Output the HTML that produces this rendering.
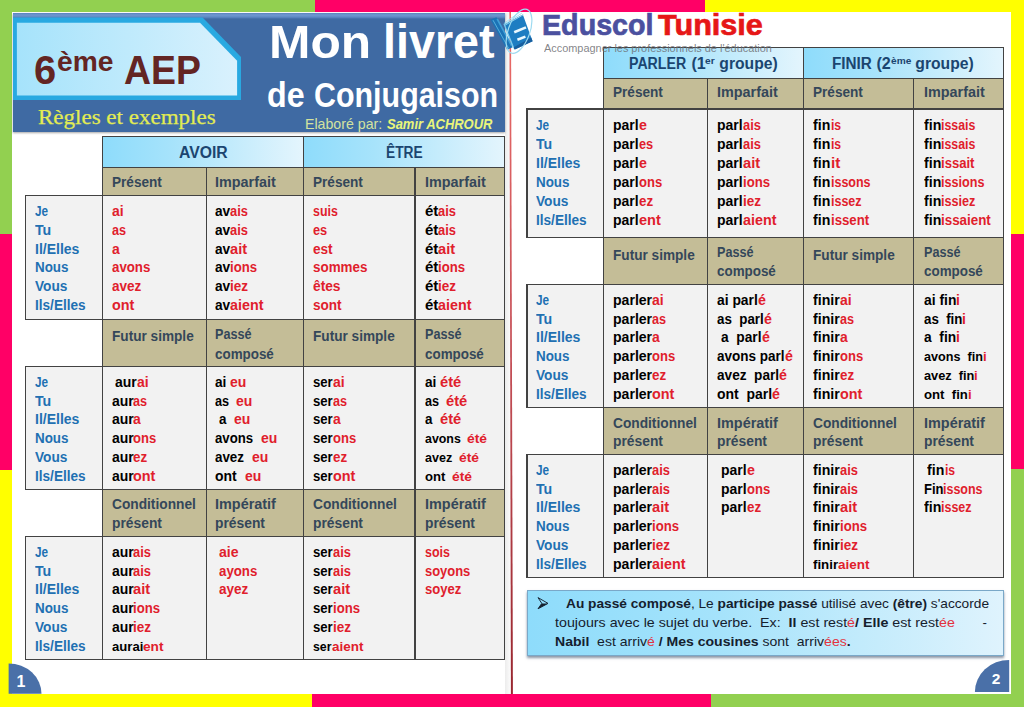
<!DOCTYPE html>
<html lang="fr"><head><meta charset="utf-8"><title>Mon livret de Conjugaison</title>
<style>
html,body{margin:0;padding:0}
body{width:1024px;height:709px;position:relative;overflow:hidden;background:#fff;font-family:"Liberation Sans",sans-serif;font-weight:bold}
body>div,body>svg,.t{position:absolute}
.t{white-space:pre;line-height:1}
.t.c{transform:translateX(-50%)}
.t i{font-style:normal;color:#e0202c}
.t sup{font-size:62%;vertical-align:baseline;position:relative;top:-0.42em}
</style></head><body>
<!-- colour bands -->
<div style="left:0.00px;top:0.00px;width:314.60px;height:12.00px;background:#92d050;"></div>
<div style="left:314.60px;top:0.00px;width:390.40px;height:12.00px;background:#ff0066;"></div>
<div style="left:705.00px;top:0.00px;width:319.00px;height:12.00px;background:#ffff00;"></div>
<div style="left:0.00px;top:0.00px;width:11.70px;height:233.60px;background:#92d050;"></div>
<div style="left:0.00px;top:233.60px;width:11.70px;height:236.40px;background:#ff0066;"></div>
<div style="left:0.00px;top:470.00px;width:11.70px;height:236.50px;background:#ffff00;"></div>
<div style="left:1011.00px;top:0.00px;width:13.00px;height:233.60px;background:#ffff00;"></div>
<div style="left:1011.00px;top:233.60px;width:13.00px;height:235.40px;background:#ff0066;"></div>
<div style="left:1011.00px;top:469.00px;width:13.00px;height:237.50px;background:#92d050;"></div>
<div style="left:0.00px;top:694.00px;width:312.40px;height:12.50px;background:#ffff00;"></div>
<div style="left:312.40px;top:694.00px;width:398.90px;height:12.50px;background:#ff0066;"></div>
<div style="left:711.30px;top:694.00px;width:312.70px;height:12.50px;background:#92d050;"></div>
<div style="left:505.00px;top:13.00px;width:5.00px;height:681.00px;background:linear-gradient(90deg,#ececec,#fafafa);"></div>
<svg style="left:506px;top:12px" width="10" height="683" viewBox="506 12 10 683"><defs><linearGradient id="cl" x1="0" y1="0" x2="0" y2="1"><stop offset="0" stop-color="#ec6a66"/><stop offset="0.45" stop-color="#c9555c"/><stop offset="1" stop-color="#98262f"/></linearGradient></defs><path d="M509.4 12 L511.0 12 L512.9 694 L510.9 694 Z" fill="url(#cl)"/></svg>
<!-- header -->
<div style="left:12.50px;top:12.50px;width:492.50px;height:119.00px;background:#3f6aa3;box-shadow:0 1px 2px rgba(0,0,0,.35);background:linear-gradient(#5a82bd 0,#6f98d0 2px,#5f8ac6 4px,#3f6aa3 6px,#3f6aa3 100%);"></div>
<svg style="left:12px;top:16px" width="235" height="88" viewBox="12 16 235 88">
<defs><linearGradient id="pg" x1="0" y1="0" x2="1" y2="0"><stop offset="0" stop-color="#a6e3fb"/><stop offset="0.5" stop-color="#bfeafc"/><stop offset="1" stop-color="#d9f1fd"/></linearGradient></defs>
<path d="M13 17.4 H202.6 L241 57 V100 H13 Z" fill="#29a9e1"/>
<path d="M16.9 22.7 H200 L237.1 60.8 V95.4 H16.9 Z" fill="url(#pg)"/>
</svg>
<span class="t" style="left:33.73px;top:49.69px;font-size:41px;color:#632523;transform:scaleX(0.9714);transform-origin:0 0;">6</span>
<span class="t" style="left:57.01px;top:47.37px;font-size:28.5px;color:#632523;transform:scaleX(0.9893);transform-origin:0 0;">ème</span>
<span class="t" style="left:124.48px;top:50.16px;font-size:40.8px;color:#632523;transform:scaleX(0.9158);transform-origin:0 0;">AEP</span>
<span class="t" style="left:38.30px;top:106.94px;font-size:21.8px;color:#e2ec52;font-weight:normal;font-family:'Liberation Serif',serif;transform:scaleX(1.0555);transform-origin:0 0;-webkit-text-stroke:0.25px #e2ec52;">Règles et exemples</span>
<span class="t" style="left:268.99px;top:19.24px;font-size:46.5px;color:#fff;transform:scaleX(1.0695);transform-origin:0 0;">Mon</span>
<span class="t" style="left:383.25px;top:18.39px;font-size:47.5px;color:#fff;transform:scaleX(0.9827);transform-origin:0 0;">livret</span>
<span class="t" style="left:266.76px;top:77.67px;font-size:34.3px;color:#fff;transform:scaleX(0.9381);transform-origin:0 0;">de</span>
<span class="t" style="left:314.41px;top:77.67px;font-size:34.3px;color:#fff;transform:scaleX(0.8866);transform-origin:0 0;">Conjugaison</span>
<span class="t" style="left:305.42px;top:117.31px;font-size:14.4px;color:#d3e29f;font-weight:normal;transform:scaleX(0.9843);transform-origin:0 0;">Elaboré par:</span>
<span class="t" style="left:387.00px;top:117.48px;font-size:14.2px;color:#e9f57a;transform:scaleX(0.9139);transform-origin:0 0;font-style:italic;">Samir ACHROUR</span>
<!-- logo -->
<svg style="left:486px;top:4px" width="52" height="56" viewBox="486 4 52 56">
<g fill="none" stroke-linecap="round" stroke-linejoin="round">
<path d="M490.6 19.5 L496.5 17.2 L512.6 47.2 L507.2 50 Z" fill="#1b73b6" stroke="none"/>
<path d="M493.2 20.5 L508.6 48.2" stroke="#5db4e0" stroke-width="0.9"/>
<path d="M497.5 19.5 L511.5 45.5" stroke="#3f9fd6" stroke-width="1.6"/>
<path d="M504.2 24.2 L522.8 14.6 L531.2 37.6 L532.6 41.2 L514.8 49.6 L513.4 47.6 Z" fill="#1d7dc2" stroke="none"/>
<path d="M513.4 47.6 L531.2 37.6 L532.6 41.2 L514.8 49.6 Z" fill="#185f9f" stroke="none"/>
<path d="M504.4 23.2 L519.5 12.2 M505 24 L521.5 13.4 M505.6 24.8 L523 15" stroke="#9bdcf3" stroke-width="0.9"/>
<path d="M504.2 24.2 L513.4 47.6" stroke="#7cc9ec" stroke-width="1.3"/>
<path d="M514.2 32.2 L526 27.4" stroke="#eaf8fe" stroke-width="2.6" stroke-linecap="butt"/>
<path d="M517.4 39.8 L525.4 36.6" stroke="#eaf8fe" stroke-width="2.6" stroke-linecap="butt"/>
<ellipse cx="519" cy="31.2" rx="10.8" ry="23.2" transform="rotate(20 519 31.2)" stroke="#9edbf1" stroke-width="1.2"/>
</g></svg>
<span class="t" style="left:541.99px;top:9.61px;font-size:30px;color:#4b509f;transform:scaleX(0.9554);transform-origin:0 0;-webkit-text-stroke:0.7px #4b509f;">Eduscol</span>
<span class="t" style="left:658.00px;top:9.61px;font-size:30px;color:#e61717;transform:scaleX(1.0205);transform-origin:0 0;-webkit-text-stroke:0.7px #e61717;">Tunisie</span>
<!-- left table -->
<div style="left:102.70px;top:136.30px;width:200.60px;height:31.40px;background:linear-gradient(90deg,#8edcfb 0%,#a7e3fb 35%,#e4f5fd 100%);"></div>
<div style="left:303.30px;top:136.30px;width:201.30px;height:31.40px;background:linear-gradient(90deg,#8edcfb 0%,#a7e3fb 35%,#e4f5fd 100%);"></div>
<div style="left:102.70px;top:167.70px;width:401.90px;height:28.20px;background:#c4bd97;"></div>
<div style="left:102.70px;top:319.30px;width:401.90px;height:47.00px;background:#c4bd97;"></div>
<div style="left:102.70px;top:489.20px;width:401.90px;height:47.00px;background:#c4bd97;"></div>
<div style="left:25.60px;top:195.90px;width:479.00px;height:123.40px;background:#f2f2f2;"></div>
<div style="left:25.60px;top:366.30px;width:479.00px;height:122.90px;background:#f2f2f2;"></div>
<div style="left:25.60px;top:536.20px;width:479.00px;height:123.60px;background:#f2f2f2;"></div>
<div style="left:102.15px;top:135.75px;width:403.00px;height:1.10px;background:#424242;"></div>
<div style="left:102.15px;top:167.15px;width:403.00px;height:1.10px;background:#424242;"></div>
<div style="left:25.05px;top:195.35px;width:480.10px;height:1.10px;background:#424242;"></div>
<div style="left:25.05px;top:318.75px;width:480.10px;height:1.10px;background:#424242;"></div>
<div style="left:25.05px;top:365.75px;width:480.10px;height:1.10px;background:#424242;"></div>
<div style="left:25.05px;top:488.65px;width:480.10px;height:1.10px;background:#424242;"></div>
<div style="left:25.05px;top:535.65px;width:480.10px;height:1.10px;background:#424242;"></div>
<div style="left:25.05px;top:659.25px;width:480.10px;height:1.10px;background:#424242;"></div>
<div style="left:102.15px;top:135.75px;width:1.10px;height:524.60px;background:#424242;"></div>
<div style="left:302.75px;top:135.75px;width:1.10px;height:524.60px;background:#424242;"></div>
<div style="left:504.05px;top:135.75px;width:1.10px;height:524.60px;background:#424242;"></div>
<div style="left:205.75px;top:167.15px;width:1.10px;height:493.20px;background:#424242;"></div>
<div style="left:414.45px;top:167.15px;width:1.10px;height:493.20px;background:#424242;"></div>
<div style="left:25.05px;top:195.35px;width:1.10px;height:124.50px;background:#424242;"></div>
<div style="left:25.05px;top:365.75px;width:1.10px;height:124.00px;background:#424242;"></div>
<div style="left:25.05px;top:535.65px;width:1.10px;height:124.70px;background:#424242;"></div>
<span class="t" style="left:178.67px;top:144.96px;font-size:16.0px;color:#1b4570;transform:scaleX(0.9832);transform-origin:0 0;">AVOIR</span>
<span class="t" style="left:385.64px;top:144.96px;font-size:16.0px;color:#1b4570;transform:scaleX(0.858);transform-origin:0 0;">ÊTRE</span>
<span class="t" style="left:111.60px;top:174.65px;font-size:14.0px;color:#34475a;transform:scaleX(0.9709);transform-origin:0 0;">Présent</span>
<span class="t" style="left:215.20px;top:174.65px;font-size:14.0px;color:#34475a;transform:scaleX(1.0274);transform-origin:0 0;">Imparfait</span>
<span class="t" style="left:313.10px;top:174.65px;font-size:14.0px;color:#34475a;transform:scaleX(0.9709);transform-origin:0 0;">Présent</span>
<span class="t" style="left:424.80px;top:174.65px;font-size:14.0px;color:#34475a;transform:scaleX(1.0274);transform-origin:0 0;">Imparfait</span>
<span class="t" style="left:111.60px;top:329.35px;font-size:14.0px;color:#34475a;transform:scaleX(0.9728);transform-origin:0 0;">Futur simple</span>
<span class="t" style="left:215.20px;top:327.35px;font-size:14.0px;color:#34475a;transform:scaleX(0.9025);transform-origin:0 0;">Passé</span>
<span class="t" style="left:215.20px;top:346.55px;font-size:14.0px;color:#34475a;transform:scaleX(0.9569);transform-origin:0 0;">composé</span>
<span class="t" style="left:313.10px;top:329.35px;font-size:14.0px;color:#34475a;transform:scaleX(0.9728);transform-origin:0 0;">Futur simple</span>
<span class="t" style="left:424.80px;top:327.35px;font-size:14.0px;color:#34475a;transform:scaleX(0.9025);transform-origin:0 0;">Passé</span>
<span class="t" style="left:424.80px;top:346.55px;font-size:14.0px;color:#34475a;transform:scaleX(0.9569);transform-origin:0 0;">composé</span>
<span class="t" style="left:111.60px;top:497.35px;font-size:14.0px;color:#34475a;transform:scaleX(0.9803);transform-origin:0 0;">Conditionnel</span>
<span class="t" style="left:111.60px;top:515.95px;font-size:14.0px;color:#34475a;transform:scaleX(0.9875);transform-origin:0 0;">présent</span>
<span class="t" style="left:215.20px;top:497.35px;font-size:14.0px;color:#34475a;transform:scaleX(1.0298);transform-origin:0 0;">Impératif</span>
<span class="t" style="left:215.20px;top:515.95px;font-size:14.0px;color:#34475a;transform:scaleX(0.9875);transform-origin:0 0;">présent</span>
<span class="t" style="left:313.10px;top:497.35px;font-size:14.0px;color:#34475a;transform:scaleX(0.9803);transform-origin:0 0;">Conditionnel</span>
<span class="t" style="left:313.10px;top:515.95px;font-size:14.0px;color:#34475a;transform:scaleX(0.9875);transform-origin:0 0;">présent</span>
<span class="t" style="left:424.80px;top:497.35px;font-size:14.0px;color:#34475a;transform:scaleX(1.0298);transform-origin:0 0;">Impératif</span>
<span class="t" style="left:424.80px;top:515.95px;font-size:14.0px;color:#34475a;transform:scaleX(0.9875);transform-origin:0 0;">présent</span>
<span class="t" style="left:34.90px;top:203.85px;font-size:14.0px;color:#2170b2;transform:scaleX(0.8408);transform-origin:0 0;">Je</span>
<span class="t" style="left:34.90px;top:222.72px;font-size:14.0px;color:#2170b2;transform:scaleX(1.0086);transform-origin:0 0;">Tu</span>
<span class="t" style="left:34.90px;top:241.59px;font-size:14.0px;color:#2170b2;transform:scaleX(0.9999);transform-origin:0 0;">Il/Elles</span>
<span class="t" style="left:34.90px;top:260.46px;font-size:14.0px;color:#2170b2;transform:scaleX(0.9568);transform-origin:0 0;">Nous</span>
<span class="t" style="left:34.90px;top:279.33px;font-size:14.0px;color:#2170b2;transform:scaleX(0.9769);transform-origin:0 0;">Vous</span>
<span class="t" style="left:34.90px;top:298.20px;font-size:14.0px;color:#2170b2;transform:scaleX(0.9707);transform-origin:0 0;">Ils/Elles</span>
<span class="t" style="left:111.60px;top:203.85px;font-size:14.0px;color:#e0202c;transform:scaleX(0.9951);transform-origin:0 0;">ai</span>
<span class="t" style="left:111.60px;top:222.72px;font-size:14.0px;color:#e0202c;transform:scaleX(0.9003);transform-origin:0 0;">as</span>
<span class="t" style="left:111.60px;top:241.59px;font-size:14.0px;color:#e0202c;transform:scaleX(0.9961);transform-origin:0 0;">a</span>
<span class="t" style="left:111.60px;top:260.46px;font-size:14.0px;color:#e0202c;transform:scaleX(0.9472);transform-origin:0 0;">avons</span>
<span class="t" style="left:111.60px;top:279.33px;font-size:14.0px;color:#e0202c;transform:scaleX(0.9655);transform-origin:0 0;">avez</span>
<span class="t" style="left:111.60px;top:298.20px;font-size:14.0px;color:#e0202c;transform:scaleX(1.0257);transform-origin:0 0;">ont</span>
<span class="t" style="left:215.20px;top:203.85px;font-size:14.0px;color:#000;transform:scaleX(0.9749);transform-origin:0 0;">av</span>
<span class="t" style="left:230.38px;top:203.85px;font-size:14.0px;color:#e0202c;transform:scaleX(0.9188);transform-origin:0 0;">ais</span>
<span class="t" style="left:215.20px;top:222.72px;font-size:14.0px;color:#000;transform:scaleX(0.9749);transform-origin:0 0;">av</span>
<span class="t" style="left:230.38px;top:222.72px;font-size:14.0px;color:#e0202c;transform:scaleX(0.9188);transform-origin:0 0;">ais</span>
<span class="t" style="left:215.20px;top:241.59px;font-size:14.0px;color:#000;transform:scaleX(0.9749);transform-origin:0 0;">av</span>
<span class="t" style="left:230.38px;top:241.59px;font-size:14.0px;color:#e0202c;transform:scaleX(1.0446);transform-origin:0 0;">ait</span>
<span class="t" style="left:215.20px;top:260.46px;font-size:14.0px;color:#000;transform:scaleX(0.9749);transform-origin:0 0;">av</span>
<span class="t" style="left:230.38px;top:260.46px;font-size:14.0px;color:#e0202c;transform:scaleX(0.9383);transform-origin:0 0;">ions</span>
<span class="t" style="left:215.20px;top:279.33px;font-size:14.0px;color:#000;transform:scaleX(0.9749);transform-origin:0 0;">av</span>
<span class="t" style="left:230.38px;top:279.33px;font-size:14.0px;color:#e0202c;transform:scaleX(0.9634);transform-origin:0 0;">iez</span>
<span class="t" style="left:215.20px;top:298.20px;font-size:14.0px;color:#000;transform:scaleX(0.9749);transform-origin:0 0;">av</span>
<span class="t" style="left:230.38px;top:298.20px;font-size:14.0px;color:#e0202c;transform:scaleX(1.022);transform-origin:0 0;">aient</span>
<span class="t" style="left:313.10px;top:203.85px;font-size:14.0px;color:#e0202c;transform:scaleX(0.8861);transform-origin:0 0;">suis</span>
<span class="t" style="left:313.10px;top:222.72px;font-size:14.0px;color:#e0202c;transform:scaleX(0.9094);transform-origin:0 0;">es</span>
<span class="t" style="left:313.10px;top:241.59px;font-size:14.0px;color:#e0202c;transform:scaleX(0.9691);transform-origin:0 0;">est</span>
<span class="t" style="left:313.10px;top:260.46px;font-size:14.0px;color:#e0202c;transform:scaleX(0.9576);transform-origin:0 0;">sommes</span>
<span class="t" style="left:313.10px;top:279.33px;font-size:14.0px;color:#e0202c;transform:scaleX(0.9817);transform-origin:0 0;">êtes</span>
<span class="t" style="left:313.10px;top:298.20px;font-size:14.0px;color:#e0202c;transform:scaleX(0.9674);transform-origin:0 0;">sont</span>
<span class="t" style="left:424.80px;top:203.85px;font-size:14.0px;color:#000;transform:scaleX(1.072);transform-origin:0 0;">ét</span>
<span class="t" style="left:438.14px;top:203.85px;font-size:14.0px;color:#e0202c;transform:scaleX(0.9188);transform-origin:0 0;">ais</span>
<span class="t" style="left:424.80px;top:222.72px;font-size:14.0px;color:#000;transform:scaleX(1.072);transform-origin:0 0;">ét</span>
<span class="t" style="left:438.14px;top:222.72px;font-size:14.0px;color:#e0202c;transform:scaleX(0.9188);transform-origin:0 0;">ais</span>
<span class="t" style="left:424.80px;top:241.59px;font-size:14.0px;color:#000;transform:scaleX(1.072);transform-origin:0 0;">ét</span>
<span class="t" style="left:438.14px;top:241.59px;font-size:14.0px;color:#e0202c;transform:scaleX(1.0446);transform-origin:0 0;">ait</span>
<span class="t" style="left:424.80px;top:260.46px;font-size:14.0px;color:#000;transform:scaleX(1.072);transform-origin:0 0;">ét</span>
<span class="t" style="left:438.14px;top:260.46px;font-size:14.0px;color:#e0202c;transform:scaleX(0.9383);transform-origin:0 0;">ions</span>
<span class="t" style="left:424.80px;top:279.33px;font-size:14.0px;color:#000;transform:scaleX(1.072);transform-origin:0 0;">ét</span>
<span class="t" style="left:438.14px;top:279.33px;font-size:14.0px;color:#e0202c;transform:scaleX(0.9634);transform-origin:0 0;">iez</span>
<span class="t" style="left:424.80px;top:298.20px;font-size:14.0px;color:#000;transform:scaleX(1.072);transform-origin:0 0;">ét</span>
<span class="t" style="left:438.14px;top:298.20px;font-size:14.0px;color:#e0202c;transform:scaleX(1.022);transform-origin:0 0;">aient</span>
<span class="t" style="left:34.90px;top:374.65px;font-size:14.0px;color:#2170b2;transform:scaleX(0.8408);transform-origin:0 0;">Je</span>
<span class="t" style="left:34.90px;top:393.52px;font-size:14.0px;color:#2170b2;transform:scaleX(1.0086);transform-origin:0 0;">Tu</span>
<span class="t" style="left:34.90px;top:412.39px;font-size:14.0px;color:#2170b2;transform:scaleX(0.9999);transform-origin:0 0;">Il/Elles</span>
<span class="t" style="left:34.90px;top:431.26px;font-size:14.0px;color:#2170b2;transform:scaleX(0.9568);transform-origin:0 0;">Nous</span>
<span class="t" style="left:34.90px;top:450.13px;font-size:14.0px;color:#2170b2;transform:scaleX(0.9769);transform-origin:0 0;">Vous</span>
<span class="t" style="left:34.90px;top:469.00px;font-size:14.0px;color:#2170b2;transform:scaleX(0.9707);transform-origin:0 0;">Ils/Elles</span>
<span class="t" style="left:115.10px;top:374.65px;font-size:14.0px;color:#000;transform:scaleX(0.9988);transform-origin:0 0;">aur</span>
<span class="t" style="left:136.86px;top:374.65px;font-size:14.0px;color:#e0202c;transform:scaleX(0.9951);transform-origin:0 0;">ai</span>
<span class="t" style="left:111.60px;top:393.52px;font-size:14.0px;color:#000;transform:scaleX(0.9988);transform-origin:0 0;">aur</span>
<span class="t" style="left:133.36px;top:393.52px;font-size:14.0px;color:#e0202c;transform:scaleX(0.9003);transform-origin:0 0;">as</span>
<span class="t" style="left:111.60px;top:412.39px;font-size:14.0px;color:#000;transform:scaleX(0.9988);transform-origin:0 0;">aur</span>
<span class="t" style="left:133.36px;top:412.39px;font-size:14.0px;color:#e0202c;transform:scaleX(0.9961);transform-origin:0 0;">a</span>
<span class="t" style="left:111.60px;top:431.26px;font-size:14.0px;color:#000;transform:scaleX(0.9988);transform-origin:0 0;">aur</span>
<span class="t" style="left:133.36px;top:431.26px;font-size:14.0px;color:#e0202c;transform:scaleX(0.9298);transform-origin:0 0;">ons</span>
<span class="t" style="left:111.60px;top:450.13px;font-size:14.0px;color:#000;transform:scaleX(0.9988);transform-origin:0 0;">aur</span>
<span class="t" style="left:133.36px;top:450.13px;font-size:14.0px;color:#e0202c;transform:scaleX(0.9556);transform-origin:0 0;">ez</span>
<span class="t" style="left:111.60px;top:469.00px;font-size:14.0px;color:#000;transform:scaleX(0.9988);transform-origin:0 0;">aur</span>
<span class="t" style="left:133.36px;top:469.00px;font-size:14.0px;color:#e0202c;transform:scaleX(1.0257);transform-origin:0 0;">ont</span>
<span class="t" style="left:215.20px;top:374.65px;font-size:14.0px;color:#000;transform:scaleX(0.9744);transform-origin:0 0;">ai </span>
<span class="t" style="left:230.37px;top:374.65px;font-size:14.0px;color:#e0202c;transform:scaleX(0.9994);transform-origin:0 0;">eu</span>
<span class="t" style="left:215.20px;top:393.52px;font-size:14.0px;color:#000;transform:scaleX(0.9043);transform-origin:0 0;">as  </span>
<span class="t" style="left:236.32px;top:393.52px;font-size:14.0px;color:#e0202c;transform:scaleX(0.9994);transform-origin:0 0;">eu</span>
<span class="t" style="left:219.20px;top:412.39px;font-size:14.0px;color:#000;transform:scaleX(0.9542);transform-origin:0 0;">a  </span>
<span class="t" style="left:234.05px;top:412.39px;font-size:14.0px;color:#e0202c;transform:scaleX(0.9994);transform-origin:0 0;">eu</span>
<span class="t" style="left:215.20px;top:431.26px;font-size:14.0px;color:#000;transform:scaleX(0.9415);transform-origin:0 0;">avons  </span>
<span class="t" style="left:260.62px;top:431.26px;font-size:14.0px;color:#e0202c;transform:scaleX(0.9994);transform-origin:0 0;">eu</span>
<span class="t" style="left:215.20px;top:450.13px;font-size:14.0px;color:#000;transform:scaleX(0.9547);transform-origin:0 0;">avez  </span>
<span class="t" style="left:251.61px;top:450.13px;font-size:14.0px;color:#e0202c;transform:scaleX(0.9994);transform-origin:0 0;">eu</span>
<span class="t" style="left:215.20px;top:469.00px;font-size:14.0px;color:#000;transform:scaleX(0.9958);transform-origin:0 0;">ont  </span>
<span class="t" style="left:244.62px;top:469.00px;font-size:14.0px;color:#e0202c;transform:scaleX(0.9994);transform-origin:0 0;">eu</span>
<span class="t" style="left:313.10px;top:374.65px;font-size:14.0px;color:#000;transform:scaleX(0.9388);transform-origin:0 0;">ser</span>
<span class="t" style="left:332.83px;top:374.65px;font-size:14.0px;color:#e0202c;transform:scaleX(0.9951);transform-origin:0 0;">ai</span>
<span class="t" style="left:313.10px;top:393.52px;font-size:14.0px;color:#000;transform:scaleX(0.9388);transform-origin:0 0;">ser</span>
<span class="t" style="left:332.83px;top:393.52px;font-size:14.0px;color:#e0202c;transform:scaleX(0.9003);transform-origin:0 0;">as</span>
<span class="t" style="left:313.10px;top:412.39px;font-size:14.0px;color:#000;transform:scaleX(0.9388);transform-origin:0 0;">ser</span>
<span class="t" style="left:332.83px;top:412.39px;font-size:14.0px;color:#e0202c;transform:scaleX(0.9961);transform-origin:0 0;">a</span>
<span class="t" style="left:313.10px;top:431.26px;font-size:14.0px;color:#000;transform:scaleX(0.9388);transform-origin:0 0;">ser</span>
<span class="t" style="left:332.83px;top:431.26px;font-size:14.0px;color:#e0202c;transform:scaleX(0.9298);transform-origin:0 0;">ons</span>
<span class="t" style="left:313.10px;top:450.13px;font-size:14.0px;color:#000;transform:scaleX(0.9388);transform-origin:0 0;">ser</span>
<span class="t" style="left:332.83px;top:450.13px;font-size:14.0px;color:#e0202c;transform:scaleX(0.9556);transform-origin:0 0;">ez</span>
<span class="t" style="left:313.10px;top:469.00px;font-size:14.0px;color:#000;transform:scaleX(0.9388);transform-origin:0 0;">ser</span>
<span class="t" style="left:332.83px;top:469.00px;font-size:14.0px;color:#e0202c;transform:scaleX(1.0257);transform-origin:0 0;">ont</span>
<span class="t" style="left:424.80px;top:374.65px;font-size:14.0px;color:#000;transform:scaleX(0.9744);transform-origin:0 0;">ai </span>
<span class="t" style="left:439.97px;top:374.65px;font-size:14.0px;color:#e0202c;transform:scaleX(1.0498);transform-origin:0 0;">été</span>
<span class="t" style="left:424.80px;top:393.52px;font-size:14.0px;color:#000;transform:scaleX(0.9043);transform-origin:0 0;">as  </span>
<span class="t" style="left:445.92px;top:393.52px;font-size:14.0px;color:#e0202c;transform:scaleX(1.0498);transform-origin:0 0;">été</span>
<span class="t" style="left:424.80px;top:412.39px;font-size:14.0px;color:#000;transform:scaleX(0.9542);transform-origin:0 0;">a  </span>
<span class="t" style="left:439.65px;top:412.39px;font-size:14.0px;color:#e0202c;transform:scaleX(1.0498);transform-origin:0 0;">été</span>
<span class="t" style="left:424.80px;top:431.98px;font-size:13.151515151515152px;color:#000;transform:scaleX(0.9423);transform-origin:0 0;">avons  </span>
<span class="t" style="left:467.47px;top:431.98px;font-size:13.151515151515152px;color:#e0202c;transform:scaleX(1.0507);transform-origin:0 0;">été</span>
<span class="t" style="left:424.80px;top:450.85px;font-size:13.151515151515152px;color:#000;transform:scaleX(0.9554);transform-origin:0 0;">avez  </span>
<span class="t" style="left:459.00px;top:450.85px;font-size:13.151515151515152px;color:#e0202c;transform:scaleX(1.0507);transform-origin:0 0;">été</span>
<span class="t" style="left:424.80px;top:469.72px;font-size:13.151515151515152px;color:#000;transform:scaleX(0.9967);transform-origin:0 0;">ont  </span>
<span class="t" style="left:452.44px;top:469.72px;font-size:13.151515151515152px;color:#e0202c;transform:scaleX(1.0507);transform-origin:0 0;">été</span>
<span class="t" style="left:34.90px;top:544.65px;font-size:14.0px;color:#2170b2;transform:scaleX(0.8408);transform-origin:0 0;">Je</span>
<span class="t" style="left:34.90px;top:563.52px;font-size:14.0px;color:#2170b2;transform:scaleX(1.0086);transform-origin:0 0;">Tu</span>
<span class="t" style="left:34.90px;top:582.39px;font-size:14.0px;color:#2170b2;transform:scaleX(0.9999);transform-origin:0 0;">Il/Elles</span>
<span class="t" style="left:34.90px;top:601.26px;font-size:14.0px;color:#2170b2;transform:scaleX(0.9568);transform-origin:0 0;">Nous</span>
<span class="t" style="left:34.90px;top:620.13px;font-size:14.0px;color:#2170b2;transform:scaleX(0.9769);transform-origin:0 0;">Vous</span>
<span class="t" style="left:34.90px;top:639.00px;font-size:14.0px;color:#2170b2;transform:scaleX(0.9707);transform-origin:0 0;">Ils/Elles</span>
<span class="t" style="left:111.60px;top:544.65px;font-size:14.0px;color:#000;transform:scaleX(0.9988);transform-origin:0 0;">aur</span>
<span class="t" style="left:133.36px;top:544.65px;font-size:14.0px;color:#e0202c;transform:scaleX(0.9188);transform-origin:0 0;">ais</span>
<span class="t" style="left:111.60px;top:563.52px;font-size:14.0px;color:#000;transform:scaleX(0.9988);transform-origin:0 0;">aur</span>
<span class="t" style="left:133.36px;top:563.52px;font-size:14.0px;color:#e0202c;transform:scaleX(0.9188);transform-origin:0 0;">ais</span>
<span class="t" style="left:111.60px;top:582.39px;font-size:14.0px;color:#000;transform:scaleX(0.9988);transform-origin:0 0;">aur</span>
<span class="t" style="left:133.36px;top:582.39px;font-size:14.0px;color:#e0202c;transform:scaleX(1.0446);transform-origin:0 0;">ait</span>
<span class="t" style="left:111.60px;top:601.26px;font-size:14.0px;color:#000;transform:scaleX(0.9988);transform-origin:0 0;">aur</span>
<span class="t" style="left:133.36px;top:601.26px;font-size:14.0px;color:#e0202c;transform:scaleX(0.9383);transform-origin:0 0;">ions</span>
<span class="t" style="left:111.60px;top:620.13px;font-size:14.0px;color:#000;transform:scaleX(0.9988);transform-origin:0 0;">aur</span>
<span class="t" style="left:133.36px;top:620.13px;font-size:14.0px;color:#e0202c;transform:scaleX(0.9634);transform-origin:0 0;">iez</span>
<span class="t" style="left:111.60px;top:639.72px;font-size:13.151515151515152px;color:#000;transform:scaleX(0.9983);transform-origin:0 0;">aurai</span>
<span class="t" style="left:142.96px;top:639.72px;font-size:13.151515151515152px;color:#e0202c;transform:scaleX(1.0378);transform-origin:0 0;">ent</span>
<span class="t" style="left:219.20px;top:544.65px;font-size:14.0px;color:#e0202c;transform:scaleX(1.0027);transform-origin:0 0;">aie</span>
<span class="t" style="left:219.20px;top:563.52px;font-size:14.0px;color:#e0202c;transform:scaleX(0.9475);transform-origin:0 0;">ayons</span>
<span class="t" style="left:219.20px;top:582.39px;font-size:14.0px;color:#e0202c;transform:scaleX(0.966);transform-origin:0 0;">ayez</span>
<span class="t" style="left:313.10px;top:544.65px;font-size:14.0px;color:#000;transform:scaleX(0.9388);transform-origin:0 0;">ser</span>
<span class="t" style="left:332.83px;top:544.65px;font-size:14.0px;color:#e0202c;transform:scaleX(0.9188);transform-origin:0 0;">ais</span>
<span class="t" style="left:313.10px;top:563.52px;font-size:14.0px;color:#000;transform:scaleX(0.9388);transform-origin:0 0;">ser</span>
<span class="t" style="left:332.83px;top:563.52px;font-size:14.0px;color:#e0202c;transform:scaleX(0.9188);transform-origin:0 0;">ais</span>
<span class="t" style="left:313.10px;top:582.39px;font-size:14.0px;color:#000;transform:scaleX(0.9388);transform-origin:0 0;">ser</span>
<span class="t" style="left:332.83px;top:582.39px;font-size:14.0px;color:#e0202c;transform:scaleX(1.0446);transform-origin:0 0;">ait</span>
<span class="t" style="left:313.10px;top:601.26px;font-size:14.0px;color:#000;transform:scaleX(0.9388);transform-origin:0 0;">ser</span>
<span class="t" style="left:332.83px;top:601.26px;font-size:14.0px;color:#e0202c;transform:scaleX(0.9383);transform-origin:0 0;">ions</span>
<span class="t" style="left:313.10px;top:620.13px;font-size:14.0px;color:#000;transform:scaleX(0.9388);transform-origin:0 0;">ser</span>
<span class="t" style="left:332.83px;top:620.13px;font-size:14.0px;color:#e0202c;transform:scaleX(0.9634);transform-origin:0 0;">iez</span>
<span class="t" style="left:313.10px;top:639.72px;font-size:13.151515151515152px;color:#000;transform:scaleX(0.9396);transform-origin:0 0;">ser</span>
<span class="t" style="left:331.64px;top:639.72px;font-size:13.151515151515152px;color:#e0202c;transform:scaleX(1.0228);transform-origin:0 0;">aient</span>
<span class="t" style="left:424.80px;top:544.65px;font-size:14.0px;color:#e0202c;transform:scaleX(0.8866);transform-origin:0 0;">sois</span>
<span class="t" style="left:424.80px;top:563.52px;font-size:14.0px;color:#e0202c;transform:scaleX(0.9241);transform-origin:0 0;">soyons</span>
<span class="t" style="left:424.80px;top:582.39px;font-size:14.0px;color:#e0202c;transform:scaleX(0.9325);transform-origin:0 0;">soyez</span>
<!-- right table -->
<div style="left:603.40px;top:47.50px;width:200.30px;height:31.40px;background:linear-gradient(90deg,#8edcfb 0%,#a7e3fb 35%,#e4f5fd 100%);"></div>
<div style="left:803.70px;top:47.50px;width:200.10px;height:31.40px;background:linear-gradient(90deg,#8edcfb 0%,#a7e3fb 35%,#e4f5fd 100%);"></div>
<div style="left:603.40px;top:78.90px;width:400.40px;height:30.10px;background:#c4bd97;"></div>
<div style="left:603.40px;top:237.40px;width:400.40px;height:47.30px;background:#c4bd97;"></div>
<div style="left:603.40px;top:407.60px;width:400.40px;height:46.70px;background:#c4bd97;"></div>
<div style="left:527.00px;top:109.00px;width:476.80px;height:128.40px;background:#f2f2f2;"></div>
<div style="left:527.00px;top:284.70px;width:476.80px;height:122.90px;background:#f2f2f2;"></div>
<div style="left:527.00px;top:454.30px;width:476.80px;height:123.40px;background:#f2f2f2;"></div>
<div style="left:602.85px;top:46.95px;width:401.50px;height:1.10px;background:#424242;"></div>
<div style="left:602.85px;top:78.35px;width:401.50px;height:1.10px;background:#424242;"></div>
<div style="left:526.45px;top:108.45px;width:477.90px;height:1.10px;background:#424242;"></div>
<div style="left:526.45px;top:236.85px;width:477.90px;height:1.10px;background:#424242;"></div>
<div style="left:526.45px;top:284.15px;width:477.90px;height:1.10px;background:#424242;"></div>
<div style="left:526.45px;top:407.05px;width:477.90px;height:1.10px;background:#424242;"></div>
<div style="left:526.45px;top:453.75px;width:477.90px;height:1.10px;background:#424242;"></div>
<div style="left:526.45px;top:577.15px;width:477.90px;height:1.10px;background:#424242;"></div>
<div style="left:602.85px;top:46.95px;width:1.10px;height:531.30px;background:#424242;"></div>
<div style="left:803.15px;top:46.95px;width:1.10px;height:531.30px;background:#424242;"></div>
<div style="left:1003.25px;top:46.95px;width:1.10px;height:531.30px;background:#424242;"></div>
<div style="left:706.65px;top:78.35px;width:1.10px;height:499.90px;background:#424242;"></div>
<div style="left:913.05px;top:78.35px;width:1.10px;height:499.90px;background:#424242;"></div>
<div style="left:526.45px;top:108.45px;width:1.10px;height:129.50px;background:#424242;"></div>
<div style="left:526.45px;top:284.15px;width:1.10px;height:124.00px;background:#424242;"></div>
<div style="left:526.45px;top:453.75px;width:1.10px;height:124.50px;background:#424242;"></div>
<span class="t" style="left:629.44px;top:55.86px;font-size:16.0px;color:#1b4570;transform:scaleX(0.8848);transform-origin:0 0;">PARLER</span>
<span class="t" style="left:686.59px;top:55.86px;font-size:16.0px;color:#1b4570;transform:scaleX(1.0074);transform-origin:0 0;"> (1</span>
<span class="t" style="left:705.40px;top:55.60px;font-size:9.92px;color:#1b4570;transform:scaleX(1.0225);transform-origin:0 0;">er</span>
<span class="t" style="left:714.98px;top:55.86px;font-size:16.0px;color:#1b4570;transform:scaleX(0.9794);transform-origin:0 0;"> groupe)</span>
<span class="t" style="left:831.92px;top:55.86px;font-size:16.0px;color:#1b4570;transform:scaleX(0.9544);transform-origin:0 0;">FINIR</span>
<span class="t" style="left:871.79px;top:55.86px;font-size:16.0px;color:#1b4570;transform:scaleX(1.0074);transform-origin:0 0;"> (2</span>
<span class="t" style="left:890.60px;top:55.60px;font-size:9.92px;color:#1b4570;transform:scaleX(1.0239);transform-origin:0 0;">ème</span>
<span class="t" style="left:910.90px;top:55.86px;font-size:16.0px;color:#1b4570;transform:scaleX(0.9794);transform-origin:0 0;"> groupe)</span>
<span class="t" style="left:613.00px;top:85.45px;font-size:14.0px;color:#34475a;transform:scaleX(0.9709);transform-origin:0 0;">Présent</span>
<span class="t" style="left:717.20px;top:85.45px;font-size:14.0px;color:#34475a;transform:scaleX(1.0274);transform-origin:0 0;">Imparfait</span>
<span class="t" style="left:813.30px;top:85.45px;font-size:14.0px;color:#34475a;transform:scaleX(0.9709);transform-origin:0 0;">Présent</span>
<span class="t" style="left:923.90px;top:85.45px;font-size:14.0px;color:#34475a;transform:scaleX(1.0274);transform-origin:0 0;">Imparfait</span>
<span class="t" style="left:613.00px;top:247.55px;font-size:14.0px;color:#34475a;transform:scaleX(0.9728);transform-origin:0 0;">Futur simple</span>
<span class="t" style="left:717.20px;top:244.95px;font-size:14.0px;color:#34475a;transform:scaleX(0.9025);transform-origin:0 0;">Passé</span>
<span class="t" style="left:717.20px;top:264.25px;font-size:14.0px;color:#34475a;transform:scaleX(0.9569);transform-origin:0 0;">composé</span>
<span class="t" style="left:813.30px;top:247.55px;font-size:14.0px;color:#34475a;transform:scaleX(0.9728);transform-origin:0 0;">Futur simple</span>
<span class="t" style="left:923.90px;top:244.95px;font-size:14.0px;color:#34475a;transform:scaleX(0.9025);transform-origin:0 0;">Passé</span>
<span class="t" style="left:923.90px;top:264.25px;font-size:14.0px;color:#34475a;transform:scaleX(0.9569);transform-origin:0 0;">composé</span>
<span class="t" style="left:613.00px;top:415.55px;font-size:14.0px;color:#34475a;transform:scaleX(0.9803);transform-origin:0 0;">Conditionnel</span>
<span class="t" style="left:613.00px;top:433.95px;font-size:14.0px;color:#34475a;transform:scaleX(0.9875);transform-origin:0 0;">présent</span>
<span class="t" style="left:717.20px;top:415.55px;font-size:14.0px;color:#34475a;transform:scaleX(1.0298);transform-origin:0 0;">Impératif</span>
<span class="t" style="left:717.20px;top:433.95px;font-size:14.0px;color:#34475a;transform:scaleX(0.9875);transform-origin:0 0;">présent</span>
<span class="t" style="left:813.30px;top:415.55px;font-size:14.0px;color:#34475a;transform:scaleX(0.9803);transform-origin:0 0;">Conditionnel</span>
<span class="t" style="left:813.30px;top:433.95px;font-size:14.0px;color:#34475a;transform:scaleX(0.9875);transform-origin:0 0;">présent</span>
<span class="t" style="left:923.90px;top:415.55px;font-size:14.0px;color:#34475a;transform:scaleX(1.0298);transform-origin:0 0;">Impératif</span>
<span class="t" style="left:923.90px;top:433.95px;font-size:14.0px;color:#34475a;transform:scaleX(0.9875);transform-origin:0 0;">présent</span>
<span class="t" style="left:535.90px;top:118.25px;font-size:14.0px;color:#2170b2;transform:scaleX(0.8408);transform-origin:0 0;">Je</span>
<span class="t" style="left:535.90px;top:137.12px;font-size:14.0px;color:#2170b2;transform:scaleX(1.0086);transform-origin:0 0;">Tu</span>
<span class="t" style="left:535.90px;top:155.99px;font-size:14.0px;color:#2170b2;transform:scaleX(0.9999);transform-origin:0 0;">Il/Elles</span>
<span class="t" style="left:535.90px;top:174.86px;font-size:14.0px;color:#2170b2;transform:scaleX(0.9568);transform-origin:0 0;">Nous</span>
<span class="t" style="left:535.90px;top:193.73px;font-size:14.0px;color:#2170b2;transform:scaleX(0.9769);transform-origin:0 0;">Vous</span>
<span class="t" style="left:535.90px;top:212.60px;font-size:14.0px;color:#2170b2;transform:scaleX(0.9707);transform-origin:0 0;">Ils/Elles</span>
<span class="t" style="left:613.00px;top:118.25px;font-size:14.0px;color:#000;transform:scaleX(0.9979);transform-origin:0 0;">parl</span>
<span class="t" style="left:638.62px;top:118.25px;font-size:14.0px;color:#e0202c;transform:scaleX(1.0143);transform-origin:0 0;">e</span>
<span class="t" style="left:613.00px;top:137.12px;font-size:14.0px;color:#000;transform:scaleX(0.9979);transform-origin:0 0;">parl</span>
<span class="t" style="left:638.62px;top:137.12px;font-size:14.0px;color:#e0202c;transform:scaleX(0.9094);transform-origin:0 0;">es</span>
<span class="t" style="left:613.00px;top:155.99px;font-size:14.0px;color:#000;transform:scaleX(0.9979);transform-origin:0 0;">parl</span>
<span class="t" style="left:638.62px;top:155.99px;font-size:14.0px;color:#e0202c;transform:scaleX(1.0143);transform-origin:0 0;">e</span>
<span class="t" style="left:613.00px;top:174.86px;font-size:14.0px;color:#000;transform:scaleX(0.9979);transform-origin:0 0;">parl</span>
<span class="t" style="left:638.62px;top:174.86px;font-size:14.0px;color:#e0202c;transform:scaleX(0.9298);transform-origin:0 0;">ons</span>
<span class="t" style="left:613.00px;top:193.73px;font-size:14.0px;color:#000;transform:scaleX(0.9979);transform-origin:0 0;">parl</span>
<span class="t" style="left:638.62px;top:193.73px;font-size:14.0px;color:#e0202c;transform:scaleX(0.9556);transform-origin:0 0;">ez</span>
<span class="t" style="left:613.00px;top:212.60px;font-size:14.0px;color:#000;transform:scaleX(0.9979);transform-origin:0 0;">parl</span>
<span class="t" style="left:638.62px;top:212.60px;font-size:14.0px;color:#e0202c;transform:scaleX(1.0369);transform-origin:0 0;">ent</span>
<span class="t" style="left:717.20px;top:118.25px;font-size:14.0px;color:#000;transform:scaleX(0.9979);transform-origin:0 0;">parl</span>
<span class="t" style="left:742.82px;top:118.25px;font-size:14.0px;color:#e0202c;transform:scaleX(0.9188);transform-origin:0 0;">ais</span>
<span class="t" style="left:717.20px;top:137.12px;font-size:14.0px;color:#000;transform:scaleX(0.9979);transform-origin:0 0;">parl</span>
<span class="t" style="left:742.82px;top:137.12px;font-size:14.0px;color:#e0202c;transform:scaleX(0.9188);transform-origin:0 0;">ais</span>
<span class="t" style="left:717.20px;top:155.99px;font-size:14.0px;color:#000;transform:scaleX(0.9979);transform-origin:0 0;">parl</span>
<span class="t" style="left:742.82px;top:155.99px;font-size:14.0px;color:#e0202c;transform:scaleX(1.0446);transform-origin:0 0;">ait</span>
<span class="t" style="left:717.20px;top:174.86px;font-size:14.0px;color:#000;transform:scaleX(0.9979);transform-origin:0 0;">parl</span>
<span class="t" style="left:742.82px;top:174.86px;font-size:14.0px;color:#e0202c;transform:scaleX(0.9383);transform-origin:0 0;">ions</span>
<span class="t" style="left:717.20px;top:193.73px;font-size:14.0px;color:#000;transform:scaleX(0.9979);transform-origin:0 0;">parl</span>
<span class="t" style="left:742.82px;top:193.73px;font-size:14.0px;color:#e0202c;transform:scaleX(0.9634);transform-origin:0 0;">iez</span>
<span class="t" style="left:717.20px;top:212.60px;font-size:14.0px;color:#000;transform:scaleX(0.9979);transform-origin:0 0;">parl</span>
<span class="t" style="left:742.82px;top:212.60px;font-size:14.0px;color:#e0202c;transform:scaleX(1.022);transform-origin:0 0;">aient</span>
<span class="t" style="left:813.30px;top:118.25px;font-size:14.0px;color:#000;transform:scaleX(1.0088);transform-origin:0 0;">fin</span>
<span class="t" style="left:830.55px;top:118.25px;font-size:14.0px;color:#e0202c;transform:scaleX(0.8673);transform-origin:0 0;">is</span>
<span class="t" style="left:813.30px;top:137.12px;font-size:14.0px;color:#000;transform:scaleX(1.0088);transform-origin:0 0;">fin</span>
<span class="t" style="left:830.55px;top:137.12px;font-size:14.0px;color:#e0202c;transform:scaleX(0.8673);transform-origin:0 0;">is</span>
<span class="t" style="left:813.30px;top:155.99px;font-size:14.0px;color:#000;transform:scaleX(1.0088);transform-origin:0 0;">fin</span>
<span class="t" style="left:830.55px;top:155.99px;font-size:14.0px;color:#e0202c;transform:scaleX(1.0887);transform-origin:0 0;">it</span>
<span class="t" style="left:813.30px;top:174.86px;font-size:14.0px;color:#000;transform:scaleX(1.0088);transform-origin:0 0;">fin</span>
<span class="t" style="left:830.55px;top:174.86px;font-size:14.0px;color:#e0202c;transform:scaleX(0.8913);transform-origin:0 0;">issons</span>
<span class="t" style="left:813.30px;top:193.73px;font-size:14.0px;color:#000;transform:scaleX(1.0088);transform-origin:0 0;">fin</span>
<span class="t" style="left:830.55px;top:193.73px;font-size:14.0px;color:#e0202c;transform:scaleX(0.8912);transform-origin:0 0;">issez</span>
<span class="t" style="left:813.30px;top:212.60px;font-size:14.0px;color:#000;transform:scaleX(1.0088);transform-origin:0 0;">fin</span>
<span class="t" style="left:830.55px;top:212.60px;font-size:14.0px;color:#e0202c;transform:scaleX(0.9433);transform-origin:0 0;">issent</span>
<span class="t" style="left:923.90px;top:118.25px;font-size:14.0px;color:#000;transform:scaleX(1.0088);transform-origin:0 0;">fin</span>
<span class="t" style="left:941.15px;top:118.25px;font-size:14.0px;color:#e0202c;transform:scaleX(0.8805);transform-origin:0 0;">issais</span>
<span class="t" style="left:923.90px;top:137.12px;font-size:14.0px;color:#000;transform:scaleX(1.0088);transform-origin:0 0;">fin</span>
<span class="t" style="left:941.15px;top:137.12px;font-size:14.0px;color:#e0202c;transform:scaleX(0.8805);transform-origin:0 0;">issais</span>
<span class="t" style="left:923.90px;top:155.99px;font-size:14.0px;color:#000;transform:scaleX(1.0088);transform-origin:0 0;">fin</span>
<span class="t" style="left:941.15px;top:155.99px;font-size:14.0px;color:#e0202c;transform:scaleX(0.9345);transform-origin:0 0;">issait</span>
<span class="t" style="left:923.90px;top:174.86px;font-size:14.0px;color:#000;transform:scaleX(1.0088);transform-origin:0 0;">fin</span>
<span class="t" style="left:941.15px;top:174.86px;font-size:14.0px;color:#e0202c;transform:scaleX(0.8995);transform-origin:0 0;">issions</span>
<span class="t" style="left:923.90px;top:193.73px;font-size:14.0px;color:#000;transform:scaleX(1.0088);transform-origin:0 0;">fin</span>
<span class="t" style="left:941.15px;top:193.73px;font-size:14.0px;color:#e0202c;transform:scaleX(0.9015);transform-origin:0 0;">issiez</span>
<span class="t" style="left:923.90px;top:212.60px;font-size:14.0px;color:#000;transform:scaleX(1.0088);transform-origin:0 0;">fin</span>
<span class="t" style="left:941.15px;top:212.60px;font-size:14.0px;color:#e0202c;transform:scaleX(0.9549);transform-origin:0 0;">issaient</span>
<span class="t" style="left:535.90px;top:292.65px;font-size:14.0px;color:#2170b2;transform:scaleX(0.8408);transform-origin:0 0;">Je</span>
<span class="t" style="left:535.90px;top:311.52px;font-size:14.0px;color:#2170b2;transform:scaleX(1.0086);transform-origin:0 0;">Tu</span>
<span class="t" style="left:535.90px;top:330.39px;font-size:14.0px;color:#2170b2;transform:scaleX(0.9999);transform-origin:0 0;">Il/Elles</span>
<span class="t" style="left:535.90px;top:349.26px;font-size:14.0px;color:#2170b2;transform:scaleX(0.9568);transform-origin:0 0;">Nous</span>
<span class="t" style="left:535.90px;top:368.13px;font-size:14.0px;color:#2170b2;transform:scaleX(0.9769);transform-origin:0 0;">Vous</span>
<span class="t" style="left:535.90px;top:387.00px;font-size:14.0px;color:#2170b2;transform:scaleX(0.9707);transform-origin:0 0;">Ils/Elles</span>
<span class="t" style="left:613.00px;top:292.65px;font-size:14.0px;color:#000;transform:scaleX(1.0047);transform-origin:0 0;">parler</span>
<span class="t" style="left:652.09px;top:292.65px;font-size:14.0px;color:#e0202c;transform:scaleX(0.9951);transform-origin:0 0;">ai</span>
<span class="t" style="left:613.00px;top:311.52px;font-size:14.0px;color:#000;transform:scaleX(1.0047);transform-origin:0 0;">parler</span>
<span class="t" style="left:652.09px;top:311.52px;font-size:14.0px;color:#e0202c;transform:scaleX(0.9003);transform-origin:0 0;">as</span>
<span class="t" style="left:613.00px;top:330.39px;font-size:14.0px;color:#000;transform:scaleX(1.0047);transform-origin:0 0;">parler</span>
<span class="t" style="left:652.09px;top:330.39px;font-size:14.0px;color:#e0202c;transform:scaleX(0.9961);transform-origin:0 0;">a</span>
<span class="t" style="left:613.00px;top:349.26px;font-size:14.0px;color:#000;transform:scaleX(1.0047);transform-origin:0 0;">parler</span>
<span class="t" style="left:652.09px;top:349.26px;font-size:14.0px;color:#e0202c;transform:scaleX(0.9298);transform-origin:0 0;">ons</span>
<span class="t" style="left:613.00px;top:368.13px;font-size:14.0px;color:#000;transform:scaleX(1.0047);transform-origin:0 0;">parler</span>
<span class="t" style="left:652.09px;top:368.13px;font-size:14.0px;color:#e0202c;transform:scaleX(0.9556);transform-origin:0 0;">ez</span>
<span class="t" style="left:613.00px;top:387.00px;font-size:14.0px;color:#000;transform:scaleX(1.0047);transform-origin:0 0;">parler</span>
<span class="t" style="left:652.09px;top:387.00px;font-size:14.0px;color:#e0202c;transform:scaleX(1.0257);transform-origin:0 0;">ont</span>
<span class="t" style="left:717.20px;top:292.65px;font-size:14.0px;color:#000;transform:scaleX(0.989);transform-origin:0 0;">ai parl</span>
<span class="t" style="left:757.99px;top:292.65px;font-size:14.0px;color:#e0202c;transform:scaleX(1.0143);transform-origin:0 0;">é</span>
<span class="t" style="left:717.20px;top:311.52px;font-size:14.0px;color:#000;transform:scaleX(0.9533);transform-origin:0 0;">as  parl</span>
<span class="t" style="left:763.94px;top:311.52px;font-size:14.0px;color:#e0202c;transform:scaleX(1.0143);transform-origin:0 0;">é</span>
<span class="t" style="left:721.20px;top:330.39px;font-size:14.0px;color:#000;transform:scaleX(0.9814);transform-origin:0 0;">a  parl</span>
<span class="t" style="left:761.67px;top:330.39px;font-size:14.0px;color:#e0202c;transform:scaleX(1.0143);transform-origin:0 0;">é</span>
<span class="t" style="left:717.20px;top:349.26px;font-size:14.0px;color:#000;transform:scaleX(0.9638);transform-origin:0 0;">avons parl</span>
<span class="t" style="left:784.69px;top:349.26px;font-size:14.0px;color:#e0202c;transform:scaleX(1.0143);transform-origin:0 0;">é</span>
<span class="t" style="left:717.20px;top:368.13px;font-size:14.0px;color:#000;transform:scaleX(0.9721);transform-origin:0 0;">avez  parl</span>
<span class="t" style="left:779.23px;top:368.13px;font-size:14.0px;color:#e0202c;transform:scaleX(1.0143);transform-origin:0 0;">é</span>
<span class="t" style="left:717.20px;top:387.00px;font-size:14.0px;color:#000;transform:scaleX(0.9968);transform-origin:0 0;">ont  parl</span>
<span class="t" style="left:772.24px;top:387.00px;font-size:14.0px;color:#e0202c;transform:scaleX(1.0143);transform-origin:0 0;">é</span>
<span class="t" style="left:813.30px;top:292.65px;font-size:14.0px;color:#000;transform:scaleX(1.0094);transform-origin:0 0;">finir</span>
<span class="t" style="left:839.99px;top:292.65px;font-size:14.0px;color:#e0202c;transform:scaleX(0.9951);transform-origin:0 0;">ai</span>
<span class="t" style="left:813.30px;top:311.52px;font-size:14.0px;color:#000;transform:scaleX(1.0094);transform-origin:0 0;">finir</span>
<span class="t" style="left:839.99px;top:311.52px;font-size:14.0px;color:#e0202c;transform:scaleX(0.9003);transform-origin:0 0;">as</span>
<span class="t" style="left:813.30px;top:330.39px;font-size:14.0px;color:#000;transform:scaleX(1.0094);transform-origin:0 0;">finir</span>
<span class="t" style="left:839.99px;top:330.39px;font-size:14.0px;color:#e0202c;transform:scaleX(0.9961);transform-origin:0 0;">a</span>
<span class="t" style="left:813.30px;top:349.26px;font-size:14.0px;color:#000;transform:scaleX(1.0094);transform-origin:0 0;">finir</span>
<span class="t" style="left:839.99px;top:349.26px;font-size:14.0px;color:#e0202c;transform:scaleX(0.9298);transform-origin:0 0;">ons</span>
<span class="t" style="left:813.30px;top:368.13px;font-size:14.0px;color:#000;transform:scaleX(1.0094);transform-origin:0 0;">finir</span>
<span class="t" style="left:839.99px;top:368.13px;font-size:14.0px;color:#e0202c;transform:scaleX(0.9556);transform-origin:0 0;">ez</span>
<span class="t" style="left:813.30px;top:387.00px;font-size:14.0px;color:#000;transform:scaleX(1.0094);transform-origin:0 0;">finir</span>
<span class="t" style="left:839.99px;top:387.00px;font-size:14.0px;color:#e0202c;transform:scaleX(1.0257);transform-origin:0 0;">ont</span>
<span class="t" style="left:923.90px;top:292.65px;font-size:14.0px;color:#000;transform:scaleX(0.9924);transform-origin:0 0;">ai fin</span>
<span class="t" style="left:956.32px;top:292.65px;font-size:14.0px;color:#e0202c;transform:scaleX(0.9929);transform-origin:0 0;">i</span>
<span class="t" style="left:923.90px;top:311.52px;font-size:14.0px;color:#000;transform:scaleX(0.9485);transform-origin:0 0;">as  fin</span>
<span class="t" style="left:962.27px;top:311.52px;font-size:14.0px;color:#e0202c;transform:scaleX(0.9929);transform-origin:0 0;">i</span>
<span class="t" style="left:923.90px;top:330.39px;font-size:14.0px;color:#000;transform:scaleX(0.9828);transform-origin:0 0;">a  fin</span>
<span class="t" style="left:956.01px;top:330.39px;font-size:14.0px;color:#e0202c;transform:scaleX(0.9929);transform-origin:0 0;">i</span>
<span class="t" style="left:923.90px;top:349.98px;font-size:13.151515151515152px;color:#000;transform:scaleX(0.9599);transform-origin:0 0;">avons  fin</span>
<span class="t" style="left:982.78px;top:349.98px;font-size:13.151515151515152px;color:#e0202c;transform:scaleX(0.9938);transform-origin:0 0;">i</span>
<span class="t" style="left:923.90px;top:368.85px;font-size:13.151515151515152px;color:#000;transform:scaleX(0.9722);transform-origin:0 0;">avez  fin</span>
<span class="t" style="left:974.31px;top:368.85px;font-size:13.151515151515152px;color:#e0202c;transform:scaleX(0.9938);transform-origin:0 0;">i</span>
<span class="t" style="left:923.90px;top:387.72px;font-size:13.151515151515152px;color:#000;transform:scaleX(1.0014);transform-origin:0 0;">ont  fin</span>
<span class="t" style="left:967.75px;top:387.72px;font-size:13.151515151515152px;color:#e0202c;transform:scaleX(0.9938);transform-origin:0 0;">i</span>
<span class="t" style="left:535.90px;top:462.65px;font-size:14.0px;color:#2170b2;transform:scaleX(0.8408);transform-origin:0 0;">Je</span>
<span class="t" style="left:535.90px;top:481.52px;font-size:14.0px;color:#2170b2;transform:scaleX(1.0086);transform-origin:0 0;">Tu</span>
<span class="t" style="left:535.90px;top:500.39px;font-size:14.0px;color:#2170b2;transform:scaleX(0.9999);transform-origin:0 0;">Il/Elles</span>
<span class="t" style="left:535.90px;top:519.26px;font-size:14.0px;color:#2170b2;transform:scaleX(0.9568);transform-origin:0 0;">Nous</span>
<span class="t" style="left:535.90px;top:538.13px;font-size:14.0px;color:#2170b2;transform:scaleX(0.9769);transform-origin:0 0;">Vous</span>
<span class="t" style="left:535.90px;top:557.00px;font-size:14.0px;color:#2170b2;transform:scaleX(0.9707);transform-origin:0 0;">Ils/Elles</span>
<span class="t" style="left:613.00px;top:462.65px;font-size:14.0px;color:#000;transform:scaleX(1.0047);transform-origin:0 0;">parler</span>
<span class="t" style="left:652.09px;top:462.65px;font-size:14.0px;color:#e0202c;transform:scaleX(0.9188);transform-origin:0 0;">ais</span>
<span class="t" style="left:613.00px;top:481.52px;font-size:14.0px;color:#000;transform:scaleX(1.0047);transform-origin:0 0;">parler</span>
<span class="t" style="left:652.09px;top:481.52px;font-size:14.0px;color:#e0202c;transform:scaleX(0.9188);transform-origin:0 0;">ais</span>
<span class="t" style="left:613.00px;top:500.39px;font-size:14.0px;color:#000;transform:scaleX(1.0047);transform-origin:0 0;">parler</span>
<span class="t" style="left:652.09px;top:500.39px;font-size:14.0px;color:#e0202c;transform:scaleX(1.0446);transform-origin:0 0;">ait</span>
<span class="t" style="left:613.00px;top:519.26px;font-size:14.0px;color:#000;transform:scaleX(1.0047);transform-origin:0 0;">parler</span>
<span class="t" style="left:652.09px;top:519.26px;font-size:14.0px;color:#e0202c;transform:scaleX(0.9383);transform-origin:0 0;">ions</span>
<span class="t" style="left:613.00px;top:538.13px;font-size:14.0px;color:#000;transform:scaleX(1.0047);transform-origin:0 0;">parler</span>
<span class="t" style="left:652.09px;top:538.13px;font-size:14.0px;color:#e0202c;transform:scaleX(0.9634);transform-origin:0 0;">iez</span>
<span class="t" style="left:613.00px;top:557.00px;font-size:14.0px;color:#000;transform:scaleX(1.0047);transform-origin:0 0;">parler</span>
<span class="t" style="left:652.09px;top:557.00px;font-size:14.0px;color:#e0202c;transform:scaleX(1.022);transform-origin:0 0;">aient</span>
<span class="t" style="left:721.20px;top:462.65px;font-size:14.0px;color:#000;transform:scaleX(0.9979);transform-origin:0 0;">parl</span>
<span class="t" style="left:746.82px;top:462.65px;font-size:14.0px;color:#e0202c;transform:scaleX(1.0143);transform-origin:0 0;">e</span>
<span class="t" style="left:721.20px;top:481.52px;font-size:14.0px;color:#000;transform:scaleX(0.9979);transform-origin:0 0;">parl</span>
<span class="t" style="left:746.82px;top:481.52px;font-size:14.0px;color:#e0202c;transform:scaleX(0.9298);transform-origin:0 0;">ons</span>
<span class="t" style="left:721.20px;top:500.39px;font-size:14.0px;color:#000;transform:scaleX(0.9979);transform-origin:0 0;">parl</span>
<span class="t" style="left:746.82px;top:500.39px;font-size:14.0px;color:#e0202c;transform:scaleX(0.9556);transform-origin:0 0;">ez</span>
<span class="t" style="left:813.30px;top:462.65px;font-size:14.0px;color:#000;transform:scaleX(1.0094);transform-origin:0 0;">finir</span>
<span class="t" style="left:839.99px;top:462.65px;font-size:14.0px;color:#e0202c;transform:scaleX(0.9188);transform-origin:0 0;">ais</span>
<span class="t" style="left:813.30px;top:481.52px;font-size:14.0px;color:#000;transform:scaleX(1.0094);transform-origin:0 0;">finir</span>
<span class="t" style="left:839.99px;top:481.52px;font-size:14.0px;color:#e0202c;transform:scaleX(0.9188);transform-origin:0 0;">ais</span>
<span class="t" style="left:813.30px;top:500.39px;font-size:14.0px;color:#000;transform:scaleX(1.0094);transform-origin:0 0;">finir</span>
<span class="t" style="left:839.99px;top:500.39px;font-size:14.0px;color:#e0202c;transform:scaleX(1.0446);transform-origin:0 0;">ait</span>
<span class="t" style="left:813.30px;top:519.26px;font-size:14.0px;color:#000;transform:scaleX(1.0094);transform-origin:0 0;">finir</span>
<span class="t" style="left:839.99px;top:519.26px;font-size:14.0px;color:#e0202c;transform:scaleX(0.9383);transform-origin:0 0;">ions</span>
<span class="t" style="left:813.30px;top:538.13px;font-size:14.0px;color:#000;transform:scaleX(1.0094);transform-origin:0 0;">finir</span>
<span class="t" style="left:839.99px;top:538.13px;font-size:14.0px;color:#e0202c;transform:scaleX(0.9634);transform-origin:0 0;">iez</span>
<span class="t" style="left:813.30px;top:557.72px;font-size:13.151515151515152px;color:#000;transform:scaleX(1.0102);transform-origin:0 0;">finir</span>
<span class="t" style="left:838.37px;top:557.72px;font-size:13.151515151515152px;color:#e0202c;transform:scaleX(1.0228);transform-origin:0 0;">aient</span>
<span class="t" style="left:927.40px;top:462.65px;font-size:14.0px;color:#000;transform:scaleX(1.0088);transform-origin:0 0;">fin</span>
<span class="t" style="left:944.65px;top:462.65px;font-size:14.0px;color:#e0202c;transform:scaleX(0.8673);transform-origin:0 0;">is</span>
<span class="t" style="left:923.90px;top:481.52px;font-size:14.0px;color:#000;transform:scaleX(0.9288);transform-origin:0 0;">Fin</span>
<span class="t" style="left:943.40px;top:481.52px;font-size:14.0px;color:#e0202c;transform:scaleX(0.8913);transform-origin:0 0;">issons</span>
<span class="t" style="left:923.90px;top:500.39px;font-size:14.0px;color:#000;transform:scaleX(1.0088);transform-origin:0 0;">fin</span>
<span class="t" style="left:941.15px;top:500.39px;font-size:14.0px;color:#e0202c;transform:scaleX(0.8912);transform-origin:0 0;">issez</span>
<span class="t" style="left:544.00px;top:42.69px;font-size:11px;color:rgba(110,110,115,.85);font-weight:normal;transform:scaleX(0.9924);transform-origin:0 0;">Accompagner les professionnels de l'éducation</span>
<!-- note -->
<div style="left:527.00px;top:589.70px;width:477.00px;height:66.00px;background:linear-gradient(90deg,#8edcfb 0%,#a5e3fb 40%,#dff3fd 100%);box-shadow:0 1.5px 2.5px rgba(40,60,90,.55);border:0.6px solid #7aa8c8;box-sizing:border-box;"></div>
<svg style="left:536px;top:596px" width="14" height="14" viewBox="536 596 14 14"><path d="M538 597.6 L548 603.4 L538 608.8 L541.8 603.4 Z" fill="none" stroke="#1b2b3b" stroke-width="1" stroke-linejoin="miter"/><path d="M548 603.4 L538 608.8 L541.8 603.4 Z" fill="#14202e"/></svg>
<span class="t" style="left:565.80px;top:597.43px;font-size:13.2px;color:#15202d;font-weight:normal;transform:scaleX(1.039);transform-origin:0 0;"><b>Au passé composé</b>, Le <b>participe passé</b> utilisé avec <b>(être)</b> s'accorde</span>
<span class="t" style="left:555.20px;top:616.33px;font-size:13.2px;color:#15202d;font-weight:normal;transform:scaleX(1.08);transform-origin:0 0;">toujours avec le sujet du verbe.  Ex:  <b>Il</b> est rest<i style="color:#e3323e">é</i><b>/ Elle</b> est rest<i style="color:#e3323e">ée</i></span>
<span class="t" style="left:982.60px;top:616.33px;font-size:13.2px;color:#15202d;font-weight:normal;">-</span>
<span class="t" style="left:555.20px;top:635.33px;font-size:13.2px;color:#15202d;font-weight:normal;transform:scaleX(1.064);transform-origin:0 0;"><b>Nabil</b>  est arriv<i style="color:#e3323e">é</i> <b>/ Mes cousines</b> sont  arriv<i style="color:#e3323e">ées</i><b>.</b></span>
<!-- page badges -->
<svg style="left:8px;top:662px" width="36" height="34" viewBox="8 662 36 34"><path d="M8.6 663.5 A32.9 30.2 0 0 1 41.5 693.7 L8.6 693.7 Z" fill="#4a70a8"/></svg>
<span class="t" style="left:16.60px;top:673.76px;font-size:16px;color:#fff;">1</span>
<svg style="left:973px;top:658px" width="38" height="36" viewBox="973 658 38 36"><path d="M1009.2 659.9 A34.3 32.1 0 0 0 974.9 692 L1009.2 692 Z" fill="#4a70a8"/></svg>
<span class="t" style="left:991.80px;top:671.48px;font-size:15.5px;color:#fff;">2</span>
</body></html>
